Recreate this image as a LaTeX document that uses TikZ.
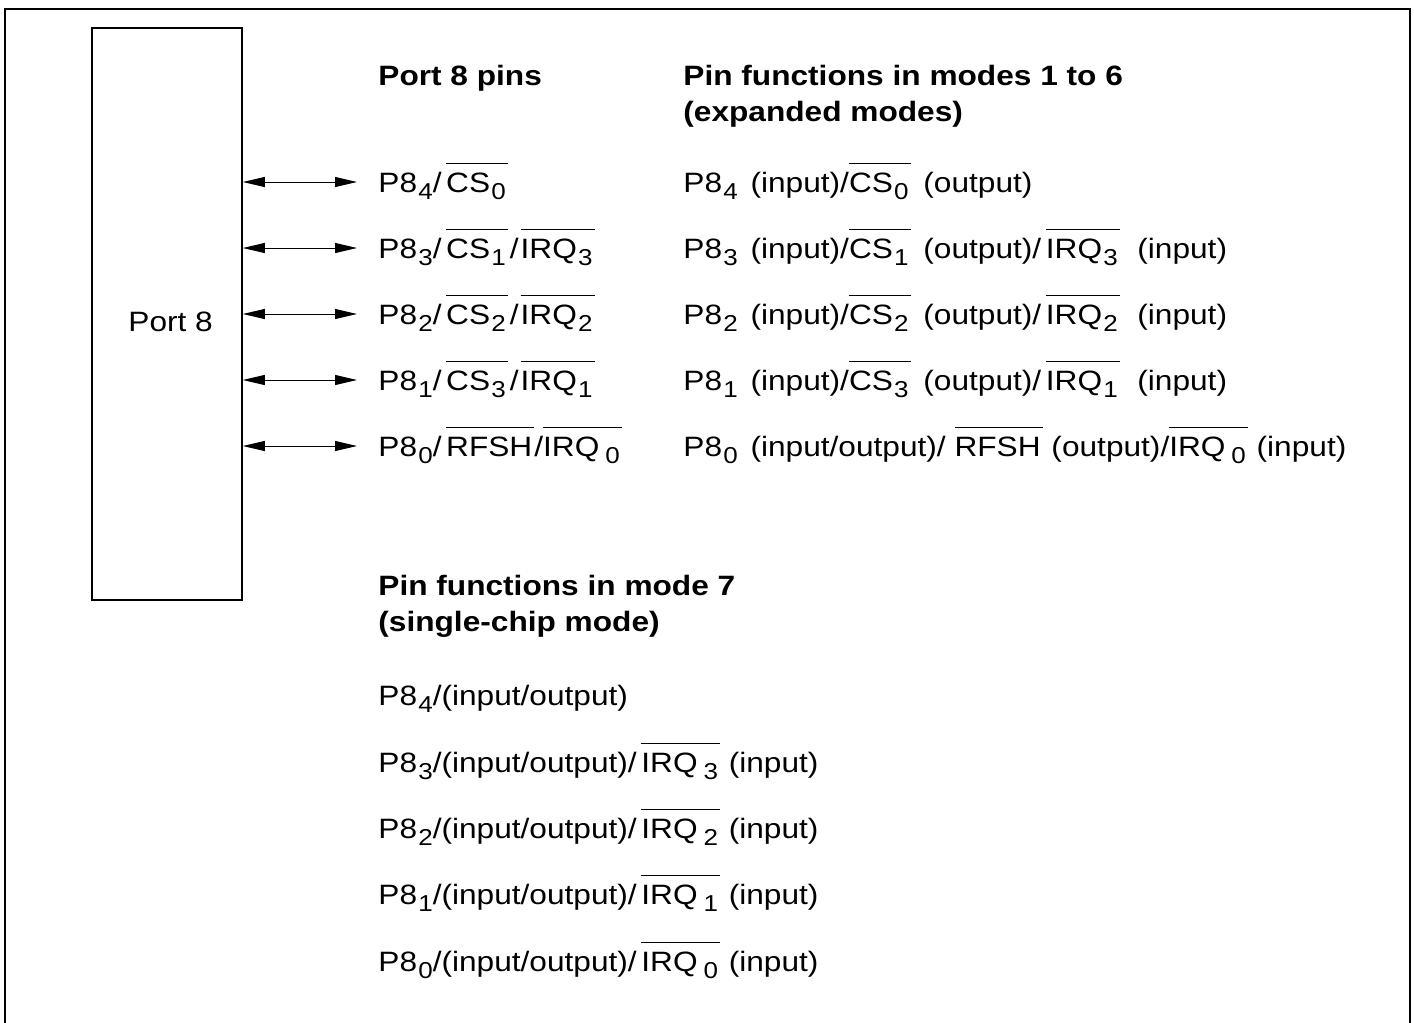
\documentclass[tikz,border=0pt]{standalone}
\usepackage{fontspec}
\setmainfont{Liberation Sans}[FakeStretch=1.13]
\usetikzlibrary{arrows.meta}
\newsavebox\olbox
\newcommand\ovl[1]{\sbox\olbox{#1\kern1pt}\rlap{\rule[13.8pt]{\wd\olbox}{0.55pt}}\usebox\olbox}
\newcommand\sbs[1]{\kern0.6pt\raisebox{-3.9pt}{\fontsize{11.5}{11.5}\selectfont #1}}
\tikzset{
  txt/.style={anchor=base west, inner sep=0pt, font=\fontsize{14}{16}\selectfont},
  hdr/.style={txt, font=\fontsize{14}{16}\selectfont\bfseries},
  frameline/.style={line width=1pt},
  portbox/.style={draw, line width=0.8pt, minimum width=75pt, minimum height=286pt, inner sep=0pt},
  biarrow/.style={line width=0.5pt, {Triangle[length=11pt,width=5pt]}-{Triangle[length=11pt,width=5pt]}}
}
\begin{document}
\begin{tikzpicture}[x=0.5pt,y=-0.5pt]
\useasboundingbox (0,0) rectangle (1414,1023);
\draw[frameline] (5,1023) -- (5,9) -- (1410,9) -- (1410,1023);
\node[portbox] (port) at (167,314) {};
\node[txt] (portlbl) at (128,331) {Port 8};

\node[hdr] (h1) at (378,85) {Port 8 pins};
\node[hdr] (h2a) at (683,85) {Pin functions in modes 1 to 6};
\node[hdr] (h2b) at (683,121) {(expanded modes)};

\node[txt] (l4) at (378,192) {P8\sbs{4}/\,\ovl{CS\sbs{0}}};
\node[txt] (l3) at (378,258) {P8\sbs{3}/\,\ovl{CS\sbs{1}}\kern1pt/\kern1pt\ovl{IRQ\sbs{3}}};
\node[txt] (l2) at (378,324) {P8\sbs{2}/\,\ovl{CS\sbs{2}}\kern1pt/\kern1pt\ovl{IRQ\sbs{2}}};
\node[txt] (l1) at (378,390) {P8\sbs{1}/\,\ovl{CS\sbs{3}}\kern1pt/\kern1pt\ovl{IRQ\sbs{1}}};
\node[txt] (l0) at (378,456) {P8\sbs{0}/\,\ovl{RFSH}/\ovl{IRQ\,\sbs{0}}};

\node[txt] (r4) at (683,192) {P8\sbs{4}\kern2pt{} (input)/\ovl{CS\sbs{0}}\kern2pt{} (output)};
\node[txt] (r3) at (683,258) {P8\sbs{3}\kern2pt{} (input)/\ovl{CS\sbs{1}}\kern2pt{} (output)/\,\ovl{IRQ\sbs{3}}\ \ (input)};
\node[txt] (r2) at (683,324) {P8\sbs{2}\kern2pt{} (input)/\ovl{CS\sbs{2}}\kern2pt{} (output)/\,\ovl{IRQ\sbs{2}}\ \ (input)};
\node[txt] (r1) at (683,390) {P8\sbs{1}\kern2pt{} (input)/\ovl{CS\sbs{3}}\kern2pt{} (output)/\,\ovl{IRQ\sbs{1}}\ \ (input)};
\node[txt] (r0) at (683,456) {P8\sbs{0}\kern2pt{} (input/output)/ \ovl{RFSH} (output)/\ovl{IRQ\,\sbs{0}} (input)};

\coordinate (a4) at (357,182);
\coordinate (a3) at (357,248);
\coordinate (a2) at (357,314);
\coordinate (a1) at (357,380);
\coordinate (a0) at (357,446);
\foreach \i in {4,3,2,1,0}{
  \draw[biarrow] (port.east |- a\i) -- (a\i);
}

\node[hdr] (h3a) at (378,595) {Pin functions in mode 7};
\node[hdr] (h3b) at (378,631) {(single-chip mode)};

\node[txt] (m4) at (378,705) {P8\sbs{4}/(input/output)};
\node[txt] (m3) at (378,772) {P8\sbs{3}/(input/output)/\,\ovl{IRQ\,\sbs{3}} (input)};
\node[txt] (m2) at (378,838) {P8\sbs{2}/(input/output)/\,\ovl{IRQ\,\sbs{2}} (input)};
\node[txt] (m1) at (378,904) {P8\sbs{1}/(input/output)/\,\ovl{IRQ\,\sbs{1}} (input)};
\node[txt] (m0) at (378,971) {P8\sbs{0}/(input/output)/\,\ovl{IRQ\,\sbs{0}} (input)};
\end{tikzpicture}
\end{document}
